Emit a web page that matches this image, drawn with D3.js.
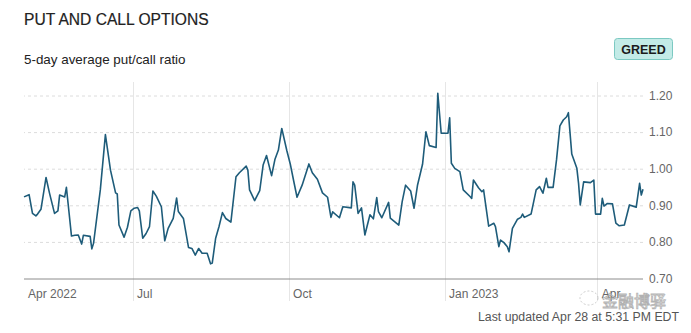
<!DOCTYPE html>
<html>
<head>
<meta charset="utf-8">
<script src="https://cdn.jsdelivr.net/npm/d3@7"></script>
<style>
  html, body { margin: 0; padding: 0; background: #fff; }
  svg { display: block; font-family: "Liberation Sans", Arial, Helvetica, sans-serif; }
</style>
</head>
<body>
<svg id="chart" width="691" height="333"></svg>
<script>
// 5-day average put/call ratio, one trading year
const dates = [
  "2022-04-28","2022-05-01","2022-05-03","2022-05-05","2022-05-06","2022-05-08","2022-05-11","2022-05-13",
  "2022-05-16","2022-05-18","2022-05-19","2022-05-22","2022-05-23","2022-05-24","2022-05-26","2022-05-28",
  "2022-05-30","2022-06-01","2022-06-02","2022-06-06","2022-06-07","2022-06-08","2022-06-12","2022-06-15",
  "2022-06-18","2022-06-21","2022-06-22","2022-06-23","2022-06-26","2022-06-28","2022-06-30","2022-07-02",
  "2022-07-04","2022-07-05","2022-07-07","2022-07-09","2022-07-11","2022-07-13","2022-07-15","2022-07-18",
  "2022-07-20","2022-07-22","2022-07-25","2022-07-27","2022-07-28","2022-07-31","2022-08-03","2022-08-05",
  "2022-08-07","2022-08-09","2022-08-11","2022-08-14","2022-08-16","2022-08-17","2022-08-19","2022-08-21",
  "2022-08-23","2022-08-25","2022-08-28","2022-08-31","2022-09-02","2022-09-06","2022-09-07","2022-09-08",
  "2022-09-11","2022-09-14","2022-09-16","2022-09-18","2022-09-21","2022-09-23","2022-09-25","2022-09-27",
  "2022-09-30","2022-10-02","2022-10-04","2022-10-06","2022-10-09","2022-10-13","2022-10-15","2022-10-18",
  "2022-10-21","2022-10-24","2022-10-26","2022-10-27","2022-10-31","2022-11-02","2022-11-07","2022-11-08",
  "2022-11-09","2022-11-11","2022-11-13","2022-11-15","2022-11-18","2022-11-20","2022-11-22","2022-11-23",
  "2022-11-25","2022-11-29","2022-11-30","2022-12-05","2022-12-07","2022-12-09","2022-12-12","2022-12-14",
  "2022-12-16","2022-12-19","2022-12-21","2022-12-23","2022-12-27","2022-12-28","2022-12-30","2023-01-03",
  "2023-01-04","2023-01-05","2023-01-07","2023-01-10","2023-01-12","2023-01-16","2023-01-17","2023-01-18",
  "2023-01-21","2023-01-23","2023-01-24","2023-01-27","2023-01-30","2023-01-31","2023-02-02","2023-02-03",
  "2023-02-05","2023-02-07","2023-02-08","2023-02-10","2023-02-13","2023-02-15","2023-02-16","2023-02-17",
  "2023-02-21","2023-02-24","2023-02-26","2023-02-28","2023-03-02","2023-03-03","2023-03-06","2023-03-08",
  "2023-03-10","2023-03-12","2023-03-14","2023-03-15","2023-03-17","2023-03-20","2023-03-21","2023-03-22",
  "2023-03-24","2023-03-28","2023-03-30","2023-03-31","2023-04-03","2023-04-04","2023-04-05","2023-04-07",
  "2023-04-10","2023-04-12","2023-04-14","2023-04-17","2023-04-20","2023-04-24","2023-04-26","2023-04-27",
  "2023-04-28"
];

const ratios = [
  0.923,0.929,0.878,0.871,0.876,0.889,0.976,0.934,
  0.878,0.885,0.928,0.923,0.949,0.905,0.816,0.818,
  0.819,0.794,0.818,0.815,0.781,0.796,0.942,1.093,
  0.996,0.934,0.931,0.846,0.813,0.840,0.885,0.892,
  0.894,0.885,0.810,0.823,0.842,0.939,0.925,0.896,
  0.803,0.837,0.864,0.920,0.883,0.864,0.785,0.782,
  0.764,0.782,0.769,0.769,0.740,0.742,0.810,0.842,
  0.880,0.864,0.854,0.978,0.989,1.007,0.996,0.942,
  0.913,0.940,1.010,1.036,0.981,1.026,1.051,1.110,
  1.049,1.013,0.967,0.922,0.955,1.013,0.989,0.971,
  0.934,0.922,0.867,0.882,0.866,0.896,0.893,0.964,
  0.955,0.878,0.893,0.819,0.874,0.863,0.921,0.883,
  0.866,0.908,0.865,0.846,0.910,0.955,0.939,0.892,
  0.954,1.012,1.101,1.063,1.058,1.206,1.097,1.097,
  1.139,1.015,1.001,0.992,0.942,0.924,0.919,0.969,
  0.948,0.937,0.942,0.843,0.851,0.842,0.787,0.805,
  0.798,0.787,0.773,0.837,0.862,0.867,0.876,0.867,
  0.876,0.942,0.951,0.933,0.974,0.949,0.949,1.024,
  1.117,1.133,1.142,1.153,1.040,1.001,0.960,0.901,
  0.964,0.962,0.969,0.876,0.876,0.919,0.898,0.905,
  0.904,0.851,0.844,0.846,0.901,0.895,0.960,0.928,
  0.944
];

const yTicks = [0.70, 0.80, 0.90, 1.00, 1.10, 1.20];
const xTickDates = ["2022-07-01", "2022-10-01", "2023-01-01", "2023-04-01"];
const xTickLabels = ["Jul", "Oct", "Jan 2023", "Apr"];
const startLabel = "Apr 2022";
const domainDates = ["2022-04-28", "2023-04-28"];

const parse = d3.timeParse("%Y-%m-%d");
const series = dates.map((d, i) => ({ date: parse(d), value: ratios[i] }));

const svg = d3.select("#chart");

const plot = { left: 24, right: 643, top: 95.5, bottom: 278.5 };

const x = d3.scaleTime()
  .domain(domainDates.map(parse))
  .range([plot.left, plot.right]);

const y = d3.scaleLinear()
  .domain([0.70, 1.20])
  .range([plot.bottom, plot.top]);

// Heading and subheading
svg.append("text")
  .attr("x", 24).attr("y", 25)
  .attr("font-size", 15.6)
  .attr("fill", "#222")
  .attr("stroke", "#222")
  .attr("stroke-width", 0.2)
  .text("PUT AND CALL OPTIONS");

svg.append("text")
  .attr("x", 24).attr("y", 64)
  .attr("font-size", 13.4)
  .attr("fill", "#222")
  .text("5-day average put/call ratio");

// Sentiment badge
const badge = svg.append("g");
badge.append("rect")
  .attr("x", 614.5).attr("y", 38.5)
  .attr("width", 58).attr("height", 21)
  .attr("rx", 3).attr("ry", 3)
  .attr("fill", "#c3ebe7")
  .attr("stroke", "#7cc9c2")
  .attr("stroke-width", 1);
badge.append("text")
  .attr("x", 643.5).attr("y", 53.5)
  .attr("text-anchor", "middle")
  .attr("font-size", 12.5)
  .attr("font-weight", "bold")
  .attr("fill", "#1b1b1b")
  .text("GREED");

// Vertical month markers
svg.append("g")
  .selectAll("line")
  .data(xTickDates.map(parse))
  .join("line")
  .attr("x1", d => Math.round(x(d)) + 0.5)
  .attr("x2", d => Math.round(x(d)) + 0.5)
  .attr("y1", 82)
  .attr("y2", 301)
  .attr("stroke", "#e6e6e6")
  .attr("stroke-width", 1);

// Horizontal grid
const yAxis = d3.axisRight(y)
  .tickValues(yTicks)
  .tickFormat(d3.format(".2f"))
  .tickSize(-(plot.right - plot.left))
  .tickPadding(6);

const gy = svg.append("g")
  .attr("transform", `translate(${plot.right},0)`)
  .call(yAxis);
gy.select(".domain").remove();
gy.selectAll(".tick line")
  .attr("stroke", d => d === 0.70 ? "#8c8c8c" : "#dcdcdc")
  .attr("stroke-dasharray", d => d === 0.70 ? null : "3,3");
gy.selectAll(".tick text")
  .attr("x", 6)
  .attr("font-size", 12)
  .attr("font-family", "\"Liberation Sans\", Arial, sans-serif")
  .attr("fill", "#666");

// Bottom axis labels
const xAxis = d3.axisBottom(x)
  .tickValues(xTickDates.map(parse))
  .tickFormat((d, i) => xTickLabels[i])
  .tickSize(0)
  .tickPadding(0);

const gx = svg.append("g")
  .attr("transform", `translate(0,${plot.bottom})`)
  .call(xAxis);
gx.select(".domain").remove();
gx.selectAll(".tick text")
  .attr("text-anchor", "start")
  .attr("x", 4)
  .attr("y", 19.5)
  .attr("dy", 0)
  .attr("font-size", 12)
  .attr("font-family", "\"Liberation Sans\", Arial, sans-serif")
  .attr("fill", "#666");

svg.append("text")
  .attr("x", 28).attr("y", 298)
  .attr("font-size", 12)
  .attr("fill", "#666")
  .text(startLabel);

// Ratio line
const line = d3.line()
  .x(d => x(d.date))
  .y(d => y(d.value));

svg.append("path")
  .datum(series)
  .attr("fill", "none")
  .attr("stroke", "#1e5c7a")
  .attr("stroke-width", 1.6)
  .attr("stroke-linejoin", "round")
  .attr("d", line);

// Channel mark
const mark = svg.append("g").attr("opacity", 0.75);
mark.append("ellipse")
  .attr("cx", 589).attr("cy", 298)
  .attr("rx", 9).attr("ry", 7)
  .attr("fill", "none")
  .attr("stroke", "#bbb")
  .attr("stroke-width", 1)
  .attr("stroke-dasharray", "2,2");
mark.append("text")
  .attr("x", 602).attr("y", 307)
  .attr("font-size", 16)
  .attr("font-family", "\"Noto Sans CJK SC\", sans-serif")
  .attr("fill", "#fff")
  .attr("stroke", "#999")
  .attr("stroke-width", 0.8)
  .text("金融博驿");

// Footer
svg.append("text")
  .attr("x", 679).attr("y", 321)
  .attr("text-anchor", "end")
  .attr("font-size", 12.3)
  .attr("fill", "#555")
  .text("Last updated Apr 28 at 5:31 PM EDT");
</script>
</body>
</html>
